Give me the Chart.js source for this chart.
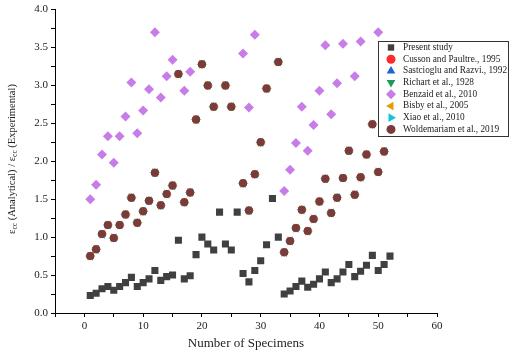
<!DOCTYPE html>
<html>
<head>
<meta charset="utf-8">
<script src="https://cdn.jsdelivr.net/npm/chart.js@4.4.1/dist/chart.umd.min.js"></script>
<style>
html, body { margin: 0; padding: 0; background: #fff; }
</style>
</head>
<body>
<canvas id="myChart" width="512" height="358"></canvas>
<script>
// specimen numbers on the x axis
const specimens = [1,2,3,4,5,6,7,8,9,10,11,12,13,14,15,16,17,18,19,20,21,22,23,24,25,26,
    27,28,29,30,31,32,33,34,35,36,37,38,39,40,41,42,43,44,45,46,47,48,49,50,51,52];

const presentStudy = [0.23,0.26,0.32,0.35,0.30,0.35,0.40,0.47,0.35,0.40,
    0.45,0.56,0.43,0.48,0.50,0.96,0.45,0.49,0.77,1.00,
    0.91,0.83,1.33,0.91,0.83,1.33,0.52,0.41,0.56,0.69,
    0.90,1.51,1.00,0.25,0.29,0.35,0.42,0.34,0.38,0.45,
    0.54,0.40,0.45,0.54,0.64,0.48,0.55,0.63,0.76,0.56,
    0.64,0.75];

// the six older models sit on top of each other in the figure
const analyticalModels = [0.75,0.84,1.04,1.16,0.99,1.16,1.30,1.52,1.19,1.34,
    1.48,1.85,1.42,1.57,1.68,3.15,1.46,1.59,2.55,3.28,
    3.00,2.72,null,3.00,2.72,null,1.71,1.35,1.83,2.25,
    2.96,null,3.31,0.80,0.95,1.12,1.36,1.08,1.24,1.47,
    1.77,1.32,1.52,1.78,2.14,1.56,1.79,2.09,2.49,1.86,
    2.13,null];

const benzaid = [1.50,1.69,2.09,2.33,1.98,2.33,2.59,3.04,2.37,2.67,
    2.95,3.70,2.84,3.12,3.34,null,2.93,3.18,null,null,
    null,null,null,null,null,null,3.42,2.71,3.67,null,
    null,null,null,1.61,1.89,2.24,2.72,2.14,2.48,2.93,
    3.53,2.62,3.03,3.55,null,3.12,3.58,null,null,3.70,
    null,null];

const yTicks = [0,0.5,1,1.5,2,2.5,3,3.5,4];

function toPoints(values) {
    return specimens.map((s, i) => ({ x: s, y: values[i] }));
}

const serif = "'Liberation Serif', 'Times New Roman', serif";

const series = [
    { label: "Present study", data: presentStudy, color: "#404040", style: "rect", r: 5, rot: 0, order: 0 },
    { label: "Cusson and Paultre., 1995", data: analyticalModels, color: "#ff2a2a", style: "circle", r: 4, rot: 0, order: 7 },
    { label: "Sastcioglu and Razvi., 1992", data: analyticalModels, color: "#1d63d6", style: "triangle", r: 4.5, rot: 0, order: 6 },
    { label: "Richart et al., 1928", data: analyticalModels, color: "#1d9a55", style: "triangle", r: 4.5, rot: 180, order: 5 },
    { label: "Benzaid et al., 2010", data: benzaid, color: "#c77de8", style: "rectRot", r: 5, rot: 0, order: 4 },
    { label: "Bisby et al., 2005", data: analyticalModels, color: "#e39b12", style: "triangle", r: 5.3, rot: 90, order: 3 },
    { label: "Xiao et al., 2010", data: analyticalModels, color: "#12c6d6", style: "triangle", r: 5.3, rot: 270, order: 2 },
    { label: "Woldemariam et al., 2019", data: analyticalModels, color: "#7a3b3b", style: "circle", r: 4, rot: 0, order: 1 }
];

// legend shows Bisby pointing left and Xiao pointing right
const legendRot = [0, 0, 0, 180, 0, 270, 90, 0];
const legendR = [4.5, 4.5, 5, 5, 5, 5, 5, 4.5];

// y title with subscripts
const yTitlePlugin = {
    id: "yTitle",
    afterDraw(chart) {
        const ctx = chart.ctx;
        const parts = [
            ["\u03b5", false], ["cc", true], [" (Analytical) / \u03b5", false], ["cc", true], [" (Experimental)", false]
        ];
        const big = "10.5px " + serif, small = "7.5px " + serif;
        let total = 0;
        parts.forEach(p => { ctx.font = p[1] ? small : big; total += ctx.measureText(p[0]).width; });
        ctx.save();
        ctx.translate(12, 159);
        ctx.rotate(-Math.PI / 2);
        ctx.fillStyle = "#222";
        ctx.textBaseline = "middle";
        let x = -total / 2;
        parts.forEach(p => {
            ctx.font = p[1] ? small : big;
            ctx.fillText(p[0], x, p[1] ? 3.5 : 0);
            x += ctx.measureText(p[0]).width;
        });
        ctx.restore();
    }
};

const legendPlugin = {
    id: "boxLegend",
    afterDraw(chart) {
        const ctx = chart.ctx;
        ctx.save();
        ctx.fillStyle = "#fff";
        ctx.fillRect(378, 41, 130, 95);
        ctx.strokeStyle = "#333";
        ctx.lineWidth = 1;
        ctx.strokeRect(378.5, 41.5, 130, 95);
        ctx.font = "9.3px " + serif;
        ctx.textBaseline = "middle";
        series.forEach((s, i) => {
            const y = 47.5 + i * 11.7;
            ctx.fillStyle = s.color;
            ctx.strokeStyle = s.color;
            Chart.helpers.drawPoint(ctx, { pointStyle: s.style, radius: legendR[i], rotation: legendRot[i], borderWidth: 0 }, 391, y);
            ctx.fillStyle = "#222";
            ctx.fillText(s.label, 403, y);
        });
        ctx.restore();
    }
};

const ctx = document.getElementById("myChart").getContext("2d");
const myChart = new Chart(ctx, {
    type: "scatter",
    data: {
        datasets: series.map(s => ({
            label: s.label,
            data: toPoints(s.data),
            order: s.order,
            pointStyle: s.style,
            pointRadius: s.r,
            pointRotation: s.rot,
            backgroundColor: s.color,
            borderColor: s.color,
            borderWidth: 0,
            showLine: false
        }))
    },
    options: {
        responsive: false,
        animation: false,
        layout: { padding: { left: 0, right: 75, top: 5, bottom: 0 } },
        plugins: {
            legend: { display: false },
            tooltip: { enabled: false }
        },
        scales: {
            x: {
                type: "linear",
                min: -5,
                max: 60,
                afterFit: (s) => { s.height = 45; },
                grid: { drawOnChartArea: false, drawTicks: true, tickLength: 4, color: "#000" },
                border: { color: "#000", width: 1 },
                ticks: {
                    stepSize: 5,
                    autoSkip: false,
                    maxRotation: 0,
                    color: "#222",
                    font: { family: serif, size: 11 },
                    callback: (v) => (v % 10 === 0 ? v : "")
                },
                title: {
                    display: true,
                    text: "Number of Specimens",
                    color: "#222",
                    font: { family: serif, size: 13 },
                    padding: { top: 0, bottom: 7 }
                }
            },
            y: {
                min: 0,
                max: 4,
                afterFit: (s) => { s.width = 55; },
                grid: { drawOnChartArea: false, drawTicks: true, tickLength: 4, color: "#000" },
                border: { color: "#000", width: 1 },
                ticks: {
                    stepSize: 0.25,
                    autoSkip: false,
                    color: "#222",
                    font: { family: serif, size: 11 },
                    callback: (v) => (yTicks.includes(v) ? v.toFixed(1) : "")
                }
            }
        }
    },
    plugins: [yTitlePlugin, legendPlugin]
});
</script>
</body>
</html>
